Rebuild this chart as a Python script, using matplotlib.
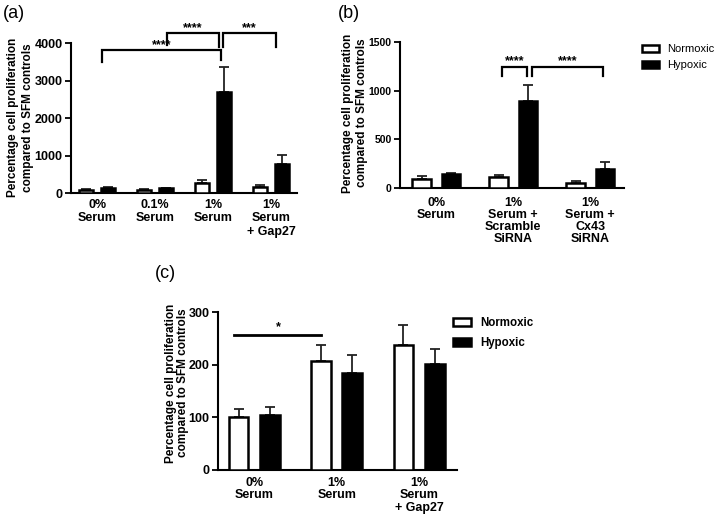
import matplotlib
matplotlib.use("Agg")
import matplotlib.pyplot as plt
from matplotlib.patches import Patch
import numpy as np

plt.rcParams['font.family'] = ['Liberation Sans', 'DejaVu Sans']

# ---------------- data ----------------
a_groups = ["0%\nSerum", "0.1%\nSerum", "1%\nSerum", "1%\nSerum\n+ Gap27"]
a_norm = [100, 95, 283, 160]
a_norm_err = [15, 12, 72, 53]
a_hyp = [135, 130, 2690, 785]
a_hyp_err = [20, 18, 675, 237]
a_yticks = [0, 1000, 2000, 3000, 4000]

b_groups = ["0%\nSerum", "1%\nSerum +\nScramble\nSiRNA", "1%\nSerum +\nCx43\nSiRNA"]
b_norm = [99, 115, 55]
b_norm_err = [26, 20, 21]
b_hyp = [150, 895, 196]
b_hyp_err = [7, 158, 69]
b_yticks = [0, 500, 1000, 1500]

c_groups = ["0%\nSerum", "1%\nSerum", "1%\nSerum\n+ Gap27"]
c_norm = [100, 208, 237]
c_norm_err = [16, 29, 38]
c_hyp = [105, 185, 202]
c_hyp_err = [14, 34, 28]
c_yticks = [0, 100, 200, 300]

series_names = ["Normoxic", "Hypoxic"]
ylabel = "Percentage cell proliferation\ncompared to SFM controls"

# ---------------- figure ----------------
fig = plt.figure(figsize=(7.2, 5.22), dpi=100)

def px_axes(l, r, b, t):
    W, H = 720, 522
    return fig.add_axes([l / W, 1 - b / H, (r - l) / W, (b - t) / H])

axA = px_axes(71, 297, 193.3, 43.3)
axB = px_axes(400, 624, 188.3, 41.7)
axC = px_axes(218, 457, 470, 312.3)

def draw_panel(ax, groups, norm, norm_err, hyp, hyp_err, yticks, xlim,
               off, width, tick_fs, xlab_fs, xlab_ls, xpad):
    x = np.arange(len(groups))
    ax.bar(x - off, norm, width, color='white', edgecolor='black', linewidth=1.8, zorder=3)
    ax.bar(x + off, hyp, width, color='black', edgecolor='black', linewidth=1.8, zorder=3)
    ax.errorbar(x - off, norm, yerr=[np.zeros(len(norm)), norm_err], fmt='none',
                ecolor='#222222', elinewidth=1.3, capsize=3.5, capthick=1.3, zorder=2)
    ax.errorbar(x + off, hyp, yerr=[np.zeros(len(hyp)), hyp_err], fmt='none',
                ecolor='#222222', elinewidth=1.3, capsize=3.5, capthick=1.3, zorder=2)
    ax.set_xlim(*xlim)
    ax.set_ylim(0, yticks[-1])
    ax.set_yticks(yticks)
    ax.set_yticklabels([str(v) for v in yticks], fontsize=tick_fs, fontweight='bold')
    ax.set_xticks(x)
    ax.set_xticklabels(groups, fontsize=xlab_fs, fontweight='bold', linespacing=xlab_ls)
    ax.tick_params(axis='x', length=0, pad=xpad)
    ax.tick_params(axis='y', length=4, width=1.3, pad=2)
    for s in ['top', 'right']:
        ax.spines[s].set_visible(False)
    for s in ['left', 'bottom']:
        ax.spines[s].set_linewidth(1.5)
    ax.patch.set_alpha(0)

draw_panel(axA, a_groups, a_norm, a_norm_err, a_hyp, a_hyp_err, a_yticks,
           (-0.45, 3.45), 0.19, 0.25, 9, 9, 1.15, 4)
draw_panel(axB, b_groups, b_norm, b_norm_err, b_hyp, b_hyp_err, b_yticks,
           (-0.47, 2.44), 0.19, 0.24, 7.5, 9, 1.0, 6)
draw_panel(axC, c_groups, c_norm, c_norm_err, c_hyp, c_hyp_err, c_yticks,
           (-0.44, 2.46), 0.19, 0.24, 9, 9, 1.05, 5)

def bracket(ax, x1, x2, y, y1, y2, label, ty, fs=9):
    ax.plot([x1, x1, x2, x2], [y1, y, y, y2], color='black', lw=1.6,
            clip_on=False, solid_joinstyle='miter', zorder=4)
    ax.text((x1 + x2) / 2, ty, label, ha='center', va='bottom', fontsize=fs,
            fontweight='bold', clip_on=False)

# panel (a) significance
bracket(axA, 0.08, 2.14, 3821, 3510, 3555, "****", 3800)
bracket(axA, 1.20, 2.11, 4267, 3955, 3911, "****", 4250)
bracket(axA, 2.17, 3.09, 4267, 3911, 3911, "***", 4250)

# panel (b) significance
bracket(axB, 0.86, 1.18, 1244, 1149, 1149, "****", 1235)
bracket(axB, 1.24, 2.17, 1244, 1149, 1149, "****", 1235)

# panel (c) significance
axC.plot([-0.25, 0.81], [256, 256], color='black', lw=2, zorder=4)
axC.text(0.29, 260, "*", ha='center', va='bottom', fontsize=9, fontweight='bold')

# y labels
fig.text(20.5 / 720, 1 - 117.5 / 522, ylabel, rotation=90, ha='center', va='center',
         fontsize=8.5, fontweight='bold', linespacing=1.25)
fig.text(355 / 720, 1 - 113 / 522, ylabel, rotation=90, ha='center', va='center',
         fontsize=8.5, fontweight='bold', linespacing=1.2)
fig.text(177 / 720, 1 - 383 / 522, ylabel, rotation=90, ha='center', va='center',
         fontsize=8.5, fontweight='bold', linespacing=1.1)

# panel letters
fig.text(3 / 720, 1 - 13 / 522, "(a)", ha='left', va='center', fontsize=13)
fig.text(338 / 720, 1 - 13 / 522, "(b)", ha='left', va='center', fontsize=13)
fig.text(155 / 720, 1 - 273 / 522, "(c)", ha='left', va='center', fontsize=13)

# legends
handles = [Patch(facecolor='white', edgecolor='black', linewidth=1.8, label=series_names[0]),
           Patch(facecolor='black', edgecolor='black', linewidth=1.8, label=series_names[1])]
axB.legend(handles=handles, loc='upper left', bbox_to_anchor=(642 / 720, 1 - 44 / 522),
           bbox_transform=fig.transFigure, frameon=False, borderpad=0, borderaxespad=0,
           handlelength=1.5, handleheight=0.6, handletextpad=0.8, labelspacing=0.55,
           prop={'size': 8})
axC.legend(handles=handles, loc='upper left', bbox_to_anchor=(453 / 720, 1 - 317 / 522),
           bbox_transform=fig.transFigure, frameon=False, borderpad=0, borderaxespad=0,
           handlelength=1.6, handleheight=0.6, handletextpad=0.8, labelspacing=0.7,
           prop={'size': 8.3, 'weight': 'bold'})

fig.savefig("out.png", dpi=100)
